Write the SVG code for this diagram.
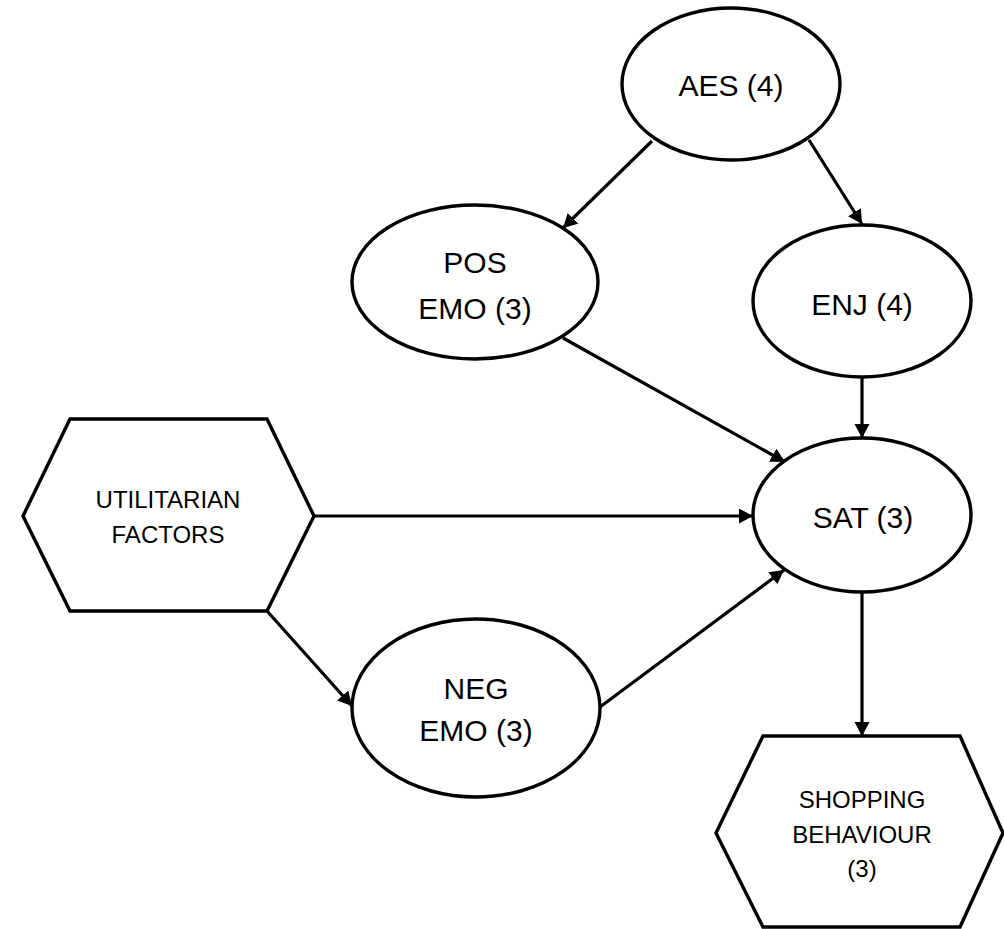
<svg xmlns="http://www.w3.org/2000/svg" width="1004" height="929" viewBox="0 0 1004 929">
<style>
.node{fill:#fff;stroke:#000;stroke-width:3.4}
.edge{fill:none;stroke:#000;stroke-width:3.2}
.big{font-family:"Liberation Sans",Arial,sans-serif;font-size:30px;fill:#000;text-anchor:middle}
.small{font-family:"Liberation Sans",Arial,sans-serif;font-size:24px;fill:#000;text-anchor:middle}
</style>
<defs>
<marker id="arr" markerUnits="userSpaceOnUse" markerWidth="15" markerHeight="16" refX="14" refY="7.5" orient="auto">
<path d="M0,0 L14,7.5 L0,15 z" fill="#000"/>
</marker>
</defs>
<rect width="1004" height="929" fill="#fff"/>
<g id="connectors">
<path class="edge" d="M652,141 L563,228" marker-end="url(#arr)"/>
<path class="edge" d="M809,140 L862,224" marker-end="url(#arr)"/>
<path class="edge" d="M563,338 L785,462" marker-end="url(#arr)"/>
<path class="edge" d="M862,377 L862,438" marker-end="url(#arr)"/>
<path class="edge" d="M314,516 L753,516" marker-end="url(#arr)"/>
<path class="edge" d="M267,611 L352,706" marker-end="url(#arr)"/>
<path class="edge" d="M600,707 L784,570" marker-end="url(#arr)"/>
<path class="edge" d="M862,592 L862,736" marker-end="url(#arr)"/>
</g>
<g id="aes">
<ellipse class="node" cx="731" cy="84" rx="109" ry="76"/>
<text class="big" x="731" y="96">AES (4)</text>
</g>
<g id="pos">
<ellipse class="node" cx="475" cy="282" rx="123" ry="77"/>
<text class="big" x="475" y="273">POS</text>
<text class="big" x="475" y="319">EMO (3)</text>
</g>
<g id="enj">
<ellipse class="node" cx="862" cy="301" rx="109" ry="76"/>
<text class="big" x="862" y="315">ENJ (4)</text>
</g>
<g id="sat">
<ellipse class="node" cx="862" cy="515" rx="109" ry="77"/>
<text class="big" x="863" y="528">SAT (3)</text>
</g>
<g id="neg">
<ellipse class="node" cx="476" cy="708" rx="124" ry="89"/>
<text class="big" x="476" y="699">NEG</text>
<text class="big" x="476" y="741">EMO (3)</text>
</g>
<g id="util">
<polygon class="node" points="70,419 267,419 314,516 267,611 70,611 23,516"/>
<text class="small" x="168" y="508">UTILITARIAN</text>
<text class="small" x="168" y="543">FACTORS</text>
</g>
<g id="shop">
<polygon class="node" points="763,736 960,736 1003,833 960,927 763,927 716,833"/>
<text class="small" x="862" y="808">SHOPPING</text>
<text class="small" x="862" y="843">BEHAVIOUR</text>
<text class="small" x="862" y="877">(3)</text>
</g>
</svg>
